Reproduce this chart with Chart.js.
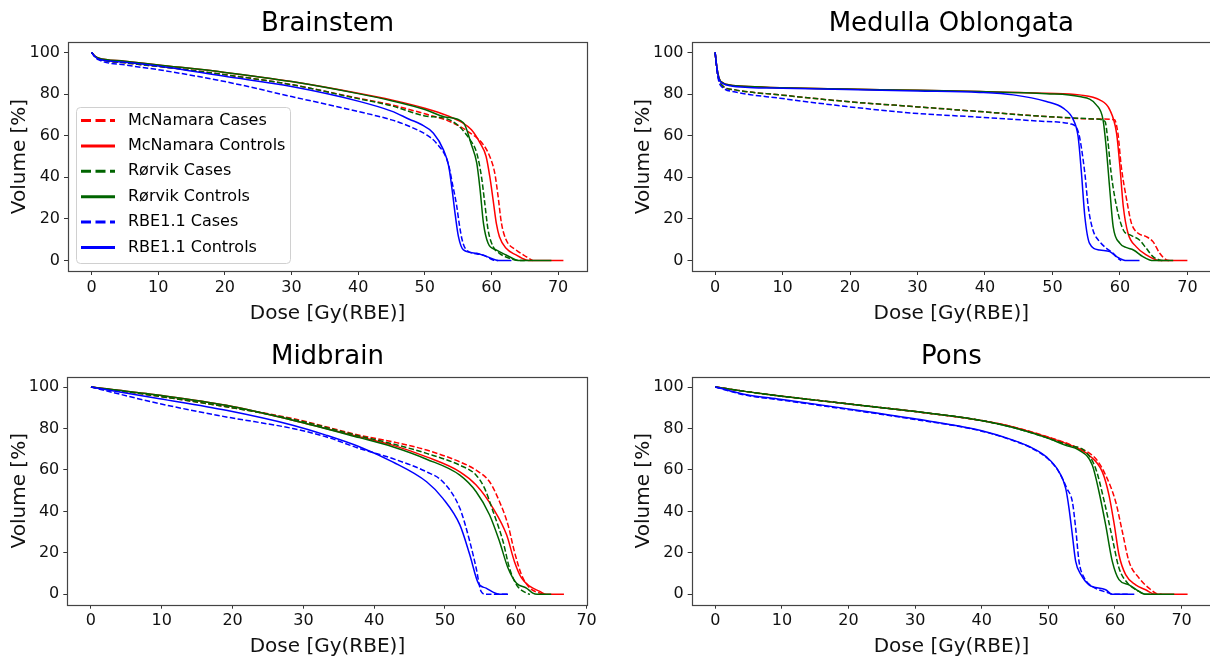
<!DOCTYPE html>
<html>
<head>
<meta charset="utf-8">
<title>DVH comparison</title>
<script src="https://cdn.jsdelivr.net/npm/chart.js@4.4.1/dist/chart.umd.min.js"></script>
<style>
  html, body { margin: 0; padding: 0; background: #fff; overflow: hidden; }
  body { width: 1210px; height: 659px; position: relative; }
  canvas { position: absolute; }
</style>
</head>
<body>
<canvas id="brainstem"></canvas>
<canvas id="medulla"></canvas>
<canvas id="midbrain"></canvas>
<canvas id="pons"></canvas>
<script>
// ── Series & ticks ───────────────────────────────────────
const seriesLabels = ["McNamara Cases", "McNamara Controls", "Rørvik Cases", "Rørvik Controls", "RBE1.1 Cases", "RBE1.1 Controls"];
const seriesColors = ["#ff0000", "#ff0000", "#006400", "#006400", "#0000ff", "#0000ff"];
const seriesDashed = [true, false, true, false, true, false];
const xTicks = [0, 10, 20, 30, 40, 50, 60, 70];
const yTicks = [0, 20, 40, 60, 80, 100];

// ── Brainstem [dose, volume] ──────────────────────────────
const brainstemMcCases = [[0,100],[0.5,98],[1,97],[5,95],[10,93.3],[20,89.3],[30,84.5],[40,78],[45,74.8],[50,70.5],[53.75,66.8],[56.5,62],[58.8,55.6],[59.75,50],[60.5,42],[61,30.8],[61.5,18],[62.2,10],[63.7,5.1],[65.2,1.9],[66.2,0]];
const brainstemMcControls = [[0,100],[0.5,98.2],[1,97.3],[5,95.8],[10,94],[20,90.4],[30,86],[40,80.4],[45,77.2],[50,73.2],[53.5,69.5],[55.5,66.5],[57,62.8],[58.3,56.4],[59.2,50],[59.75,40.4],[60.25,29.2],[60.75,17.6],[61.2,11.5],[62.2,5.9],[63.7,2.7],[65.2,0.3],[66,0],[70.8,0]];
const brainstemRoCases = [[0,100],[0.5,98],[1,97],[5,95],[10,93.3],[20,89.3],[30,84.5],[40,77.8],[45,74.4],[50,69.5],[53.8,67.5],[56.8,58],[57.8,51.6],[58.5,40.4],[59,27.6],[59.5,14.7],[60.25,6.7],[61.2,3.5],[62.7,1.1],[64.2,0],[65,0]];
const brainstemRoControls = [[0,100],[0.5,98.2],[1,97.3],[5,95.8],[10,94],[20,90.4],[30,86],[40,80.2],[45,76.8],[50,72.6],[53,69],[55.8,66.2],[57,55.6],[57.8,46.8],[58.3,34],[58.8,18],[59.5,8.3],[60.7,5.1],[62.2,2.7],[63.7,0.3],[64.5,0],[69,0]];
const brainstemRbeCases = [[0,100],[0.5,97.8],[1,96.5],[5,94],[10,91.7],[20,86],[30,78.8],[40,71.6],[45,67.6],[47.75,64.4],[50.25,60.4],[51.75,56.4],[53.5,46.8],[54.2,36],[54.75,27],[55.2,17],[55.6,10],[56.25,5.1],[58.75,2.7],[60.25,0.3],[61,0]];
const brainstemRbeControls = [[0,100],[0.5,98],[1,96.8],[5,95.3],[10,93.5],[20,88.5],[30,83.6],[40,76.6],[45,71.8],[47.75,67.8],[49.4,65.5],[51.3,61.2],[52.8,53.2],[53.6,45.2],[54.1,34],[54.6,21.2],[55.05,11.5],[55.8,5.1],[57.8,3.5],[59.3,1.9],[61.2,0],[63,0]];

// ── Medulla Oblongata ─────────────────────────────────────
const medullaMcCases = [[0,100],[0.3,91],[0.6,86.5],[1.2,83.7],[3,82],[9.6,79.6],[19.5,76.4],[29.4,74],[39.2,71.6],[49.1,69.2],[56.5,68],[59.2,67.6],[59.7,61.2],[60.2,45.2],[61,29.2],[61.7,18],[62.7,13.1],[63.9,11.5],[64.9,9.1],[65.9,3.5],[66.9,0.3],[67.3,0]];
const medullaMcControls = [[0,100],[0.3,92],[0.6,87.5],[1.2,85.3],[2.2,84.3],[5,83.6],[10,83],[19.5,82.4],[30,81.8],[39.2,81.2],[49.1,80.4],[54,79.6],[57,77.2],[58.5,72.4],[59.5,61.2],[60,45.2],[60.5,26],[61.2,13.1],[62.4,6.7],[63.9,2.7],[65.4,0.3],[66,0],[70,0]];
const medullaRoCases = [[0,100],[0.3,91],[0.6,86.5],[1.2,83.7],[3,82],[9.6,79.6],[19.5,76.4],[29.4,74],[39.2,71.6],[49.1,69.2],[56.5,68],[57.8,66.8],[58.2,58],[58.7,42],[59.5,26],[60.5,14.7],[61.5,12.3],[62.9,9.9],[63.9,5.9],[64.9,1.9],[65.9,0.3],[66.3,0]];
const medullaRoControls = [[0,100],[0.3,92],[0.6,87.5],[1.2,85.3],[2.2,84.3],[5,83.6],[10,83],[19.5,82.4],[30,81.8],[39.2,81.2],[49.1,80.2],[54,78.8],[56.5,74.8],[57.5,67.6],[58,53.2],[58.5,34],[59,16.3],[60,8.3],[61,6.2],[62,5.1],[63.4,1.9],[64.4,0.3],[65,0],[67.9,0]];
const medullaRbeCases = [[0,100],[0.3,90.5],[0.6,85.5],[1.2,82.9],[3,81],[9.6,78],[19.5,74],[29.4,70.8],[39.2,68.9],[49.1,66.8],[52.6,65.7],[53.6,63.6],[54,59.6],[54.8,42],[55.3,26],[56,14.7],[57,9.1],[58,5.9],[59,3.5],[59.7,1.1],[60.2,0]];
const medullaRbeControls = [[0,100],[0.3,92],[0.6,87],[1.2,85],[2.2,84],[5,83.2],[10,82.8],[19.5,82.2],[30,81.5],[39.2,80.8],[44.2,79.6],[49.1,76.4],[51.6,73.2],[53.1,67.6],[53.8,59.6],[54.3,42],[54.8,21.2],[55.5,8.3],[57,5.1],[58.5,4.3],[59.5,1.9],[60.5,0.3],[61,0],[62.9,0]];

// ── Midbrain ──────────────────────────────────────────────
const midbrainMcCases = [[0,100],[9.7,95.5],[19.1,90.5],[28.5,84.8],[37.9,76.8],[42.6,73.6],[47.4,69.6],[52.1,63.9],[54.4,59.9],[56.3,54.3],[57.7,44.7],[58.9,33.5],[59.8,20.7],[60.8,9.5],[62,3],[63.4,0.6],[63.9,0]];
const midbrainMcControls = [[0,100],[9.7,96],[19.1,91.2],[28.5,84],[37.9,76],[42.6,72],[47.4,66.3],[52.1,59.1],[54.4,52.7],[56.8,41.5],[58.7,28.7],[59.8,15.9],[60.8,7.9],[62,3.8],[63.4,1.4],[64.3,0],[66.8,0]];
const midbrainRoCases = [[0,100],[9.7,95.5],[19.1,90.5],[28.5,84.5],[37.9,76.4],[42.6,72.6],[47.4,68],[52.1,62.3],[54.4,57.5],[55.6,51.1],[56.8,39.9],[58.2,25.5],[59.1,12.7],[60.1,4.6],[61.5,0.6],[62,0]];
const midbrainRoControls = [[0,100],[9.7,96],[19.1,91.2],[28.5,84],[37.9,75.6],[42.6,71.2],[47.4,65.2],[52.1,57.5],[54.4,49.5],[56.3,38.3],[57.7,25.5],[58.9,12.7],[60.1,5.4],[61.5,3],[62.4,0.6],[63,0],[65,0]];
const midbrainRbeCases = [[0,100],[9.7,92],[19.1,85.6],[28.5,80],[33.2,76],[37.9,70.4],[42.6,65.5],[47.4,59.1],[49.7,54.3],[52.1,41.5],[53.5,25.5],[54.4,12.7],[55.1,1.4],[55.8,0],[58.9,0]];
const midbrainRbeControls = [[0,100],[9.7,94.4],[19.1,88.8],[28.5,81.6],[33.2,76.8],[37.9,71.2],[42.6,63.9],[47.4,54.3],[49.7,46.3],[52.1,33.5],[53.5,19.1],[54.7,5.4],[55.8,3],[57.7,0],[58.9,0]];

// ── Pons ──────────────────────────────────────────────────
const ponsMcCases = [[0,100],[4.7,97.8],[9.7,95.7],[19.7,92],[29.7,88.3],[39.7,84],[44.7,80.8],[49.7,76.2],[53.6,71.8],[57.1,65.5],[58.6,57.5],[60.1,44.7],[61.1,30.3],[62.1,15.9],[63.6,7.9],[65.1,3],[66.6,0],[67,0]];
const ponsMcControls = [[0,100],[4.7,97.8],[9.7,95.7],[19.7,92],[29.7,88.3],[39.7,84],[44.7,80.8],[49.7,76],[53.6,71.6],[56.1,67.1],[58.1,59.1],[59.1,47.9],[59.9,33.5],[60.6,19.1],[61.6,9.5],[63.1,4.6],[64.6,2.2],[66.1,0],[70.9,0]];
const ponsRoCases = [[0,100],[4.7,97.8],[9.7,95.7],[19.7,92],[29.7,88.3],[39.7,84],[44.7,80.5],[49.7,75.6],[53,72],[55.6,68.8],[57.1,60.7],[58.4,44.7],[59.6,27.1],[60.6,12.7],[61.9,5.4],[63.6,1.4],[64.6,0],[65.5,0]];
const ponsRoControls = [[0,100],[4.7,97.8],[9.7,95.7],[19.7,92],[29.7,88.3],[39.7,84],[44.7,80.5],[49.7,75.6],[52.5,72],[54.6,69.6],[56.6,62.3],[57.6,49.5],[58.6,33.5],[59.6,15.9],[60.6,7.1],[62.1,4.6],[63.6,1.4],[64.6,0],[68.9,0]];
const ponsRbeCases = [[0,100],[4.7,96],[9.7,93.8],[19.7,89.3],[29.7,84.5],[39.7,79],[44.7,74.2],[47.2,71],[49.7,66],[51.6,59],[52.8,51],[53.6,44.7],[54.1,31.9],[54.6,15.9],[55.4,7.9],[56.6,3.8],[59.1,0.6],[59.6,0],[62,0]];
const ponsRbeControls = [[0,100],[4.7,96.3],[9.7,94.1],[19.7,89.6],[29.7,84.8],[39.7,79.2],[44.7,74.4],[47.2,71.2],[49.7,66.3],[51.6,59.1],[52.6,51.1],[53.1,41.5],[53.6,28.7],[54.1,15.9],[54.9,9.5],[56.1,4.6],[58.6,2.2],[59.6,0],[62.9,0]];

// ── Shared look ───────────────────────────────────────────
Chart.defaults.font.family = "'DejaVu Sans', sans-serif";
Chart.defaults.color = "#111";

// four spines, like a matplotlib box
const framePlugin = {
  id: "frame",
  afterDatasetsDraw(chart) {
    const { ctx, chartArea: a } = chart;
    ctx.save();
    ctx.strokeStyle = "#444";
    ctx.lineWidth = 1.2;
    ctx.strokeRect(Math.round(a.left) + 0.5, Math.round(a.top) + 0.5, Math.round(a.right - a.left), Math.round(a.bottom - a.top));
    ctx.restore();
  }
};

// legend box drawn inside the first panel
const legendPlugin = {
  id: "boxLegend",
  afterDraw(chart, args, opts) {
    if (!opts.show) return;
    const { ctx, chartArea: a } = chart;
    const x0 = a.left + 8, y0 = a.top + 65, w = 214, h = 156;
    ctx.save();
    ctx.fillStyle = "rgba(255,255,255,0.8)";
    ctx.strokeStyle = "#d0d0d0";
    ctx.lineWidth = 1;
    ctx.beginPath();
    ctx.roundRect(x0 + 0.5, y0 + 0.5, w, h, 4);
    ctx.fill();
    ctx.stroke();
    ctx.font = "16px 'DejaVu Sans', sans-serif";
    ctx.textBaseline = "middle";
    ctx.fillStyle = "#000";
    chart.data.datasets.forEach((ds, i) => {
      const cy = y0 + 13.5 + i * 25.4;
      ctx.beginPath();
      ctx.strokeStyle = ds.borderColor;
      ctx.lineWidth = 3;
      ctx.setLineDash(ds.borderDash.length ? [10, 4.5] : []);
      ctx.moveTo(x0 + 5, cy);
      ctx.lineTo(x0 + 39, cy);
      ctx.stroke();
      ctx.setLineDash([]);
      ctx.fillText(ds.label, x0 + 52, cy);
    });
    ctx.restore();
  }
};

function toPoints(pairs) {
  return pairs.map(([x, y]) => ({ x: x, y: y }));
}

function makePanel(id, title, series, box) {
  const canvas = document.getElementById(id);
  canvas.width = box.w;
  canvas.height = box.h;
  canvas.style.left = box.left + "px";
  canvas.style.top = box.top + "px";

  let xMax = 0;
  series.forEach((s) => s.forEach((p) => { if (p[0] > xMax) xMax = p[0]; }));

  const datasets = series.map((s, i) => ({
    label: seriesLabels[i],
    data: toPoints(s),
    borderColor: seriesColors[i],
    borderWidth: 1.5,
    borderDash: seriesDashed[i] ? [5.5, 2.4] : [],
    pointRadius: 0,
    fill: false,
    cubicInterpolationMode: "monotone",
    order: series.length - i
  }));

  return new Chart(canvas, {
    type: "line",
    data: { datasets: datasets },
    plugins: [framePlugin, legendPlugin],
    options: {
      responsive: false,
      animation: false,
      events: [],
      layout: { padding: { left: 0, top: 0, bottom: 0, right: box.padRight } },
      plugins: {
        legend: { display: false },
        tooltip: { enabled: false },
        boxLegend: { show: !!box.legend },
        title: {
          display: true,
          text: title,
          fullSize: false,
          color: "#000",
          font: { size: 26, weight: "normal", lineHeight: 1.2 },
          padding: { top: box.titleTop, bottom: box.titleH - 31.2 - box.titleTop }
        }
      },
      scales: {
        x: {
          type: "linear",
          min: -0.05 * xMax,
          max: 1.05 * xMax,
          afterBuildTicks: (s) => { s.ticks = xTicks.map((v) => ({ value: v })); },
          afterFit: (s) => { s.height = box.xAxisH; },
          grid: { display: true, drawOnChartArea: false, drawTicks: true, tickLength: 4, color: "#333" },
          border: { display: false },
          ticks: { color: "#111", font: { size: 16 }, padding: 3, maxRotation: 0, autoSkip: false },
          title: { display: true, text: "Dose [Gy(RBE)]", color: "#111", font: { size: 20 }, padding: { top: 0, bottom: box.xTitlePad } }
        },
        y: {
          type: "linear",
          min: -5,
          max: 105,
          afterBuildTicks: (s) => { s.ticks = yTicks.map((v) => ({ value: v })); },
          afterFit: (s) => { s.width = box.yAxisW; },
          grid: { display: true, drawOnChartArea: false, drawTicks: true, tickLength: 4, color: "#333" },
          border: { display: false },
          ticks: { color: "#111", font: { size: 16 }, padding: 4 },
          title: { display: true, text: "Volume [%]", color: "#111", font: { size: 20 }, padding: { top: box.yTitlePad, bottom: 0 } }
        }
      }
    }
  });
}

makePanel("brainstem", "Brainstem",
  [brainstemMcCases, brainstemMcControls, brainstemRoCases, brainstemRoControls, brainstemRbeCases, brainstemRbeControls],
  { left: 0, top: 0, w: 605, h: 330, yAxisW: 68, padRight: 18, titleH: 42, titleTop: 8.4, xAxisH: 59, xTitlePad: 4.5, yTitlePad: 8, legend: true });

makePanel("medulla", "Medulla Oblongata",
  [medullaMcCases, medullaMcControls, medullaRoCases, medullaRoControls, medullaRbeCases, medullaRbeControls],
  { left: 605, top: 0, w: 625, h: 330, yAxisW: 86.5, padRight: 19, titleH: 42, titleTop: 8.4, xAxisH: 59, xTitlePad: 4.5, yTitlePad: 26.5 });

makePanel("midbrain", "Midbrain",
  [midbrainMcCases, midbrainMcControls, midbrainRoCases, midbrainRoControls, midbrainRbeCases, midbrainRbeControls],
  { left: 0, top: 330, w: 605, h: 329, yAxisW: 67.3, padRight: 17.4, titleH: 46.7, titleTop: 11.4, xAxisH: 54.3, xTitlePad: 0.5, yTitlePad: 7.3 });

makePanel("pons", "Pons",
  [ponsMcCases, ponsMcControls, ponsRoCases, ponsRoControls, ponsRbeCases, ponsRbeControls],
  { left: 605, top: 330, w: 625, h: 329, yAxisW: 86.7, padRight: 18.8, titleH: 46.7, titleTop: 11.4, xAxisH: 54.3, xTitlePad: 0.5, yTitlePad: 26.7 });
</script>
</body>
</html>
